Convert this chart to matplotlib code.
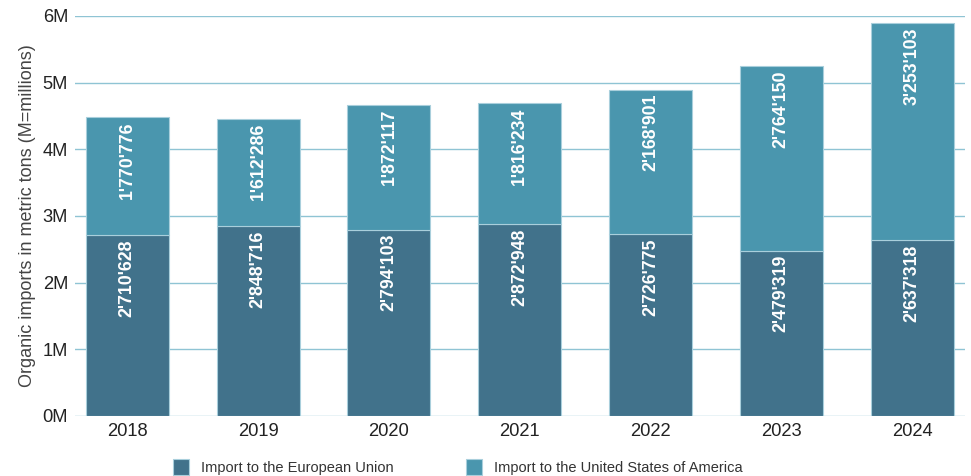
import numpy as np
import matplotlib.pyplot as plt
from matplotlib.ticker import FuncFormatter

plt.rcParams['font.family'] = ['Liberation Sans', 'DejaVu Sans']

years = ['2018', '2019', '2020', '2021', '2022', '2023', '2024']
eu_imports = [2710628, 2848716, 2794103, 2872948, 2726775, 2479319, 2637318]
us_imports = [1770776, 1612286, 1872117, 1816234, 2168901, 2764150, 3253103]

eu_color = '#41728b'
us_color = '#4a96ae'
grid_color = '#8fc4d4'


def swiss(v):
    return f'{v:,}'.replace(',', "'")


fig = plt.figure(figsize=(9.71, 4.76), dpi=100)
ax = fig.add_axes([75 / 971, 60 / 476, 890 / 971, 400 / 476])

x = np.arange(len(years))
w = 0.635
ax.bar(x, eu_imports, w, color=eu_color, edgecolor='#a9cfdc', linewidth=0.8,
       label='Import to the European Union', zorder=3)
ax.bar(x, us_imports, w, bottom=eu_imports, color=us_color, edgecolor='#a9cfdc',
       linewidth=0.8, label='Import to the United States of America', zorder=3)

for i in range(len(years)):
    ax.annotate(swiss(eu_imports[i]), (x[i], eu_imports[i]), xytext=(0, -3),
                textcoords='offset points', rotation=90, ha='center', va='top',
                color='white', fontsize=12.8, fontweight='bold', zorder=4)
    top = eu_imports[i] + us_imports[i]
    ax.annotate(swiss(us_imports[i]), (x[i], top), xytext=(0, -3),
                textcoords='offset points', rotation=90, ha='center', va='top',
                color='white', fontsize=12.8, fontweight='bold', zorder=4)

ax.set_xlim(-0.40, 6.405)
ax.set_ylim(0, 6000000)
ax.set_yticks(np.arange(0, 6000001, 1000000))
ax.yaxis.set_major_formatter(FuncFormatter(lambda v, p: f'{int(v / 1e6)}M'))
ax.set_xticks(x)
ax.set_xticklabels(years)
ax.tick_params(axis='both', labelsize=13.2, colors='#222222', length=0)
ax.tick_params(axis='y', pad=5)
ax.tick_params(axis='x', pad=5)
ax.grid(axis='y', color=grid_color, linewidth=1.0, zorder=0)
for s in ax.spines.values():
    s.set_visible(False)
ax.set_ylabel('Organic imports in metric tons (M=millions)', fontsize=13, color='#444444',
              labelpad=5)

ax.legend(loc='upper center', bbox_to_anchor=(0.43, -0.075), ncol=2, frameon=False,
          fontsize=10.5, handlelength=1.1, handleheight=1.3, columnspacing=5.0,
          labelcolor='#333333')

fig.savefig('out.png', dpi=100)
